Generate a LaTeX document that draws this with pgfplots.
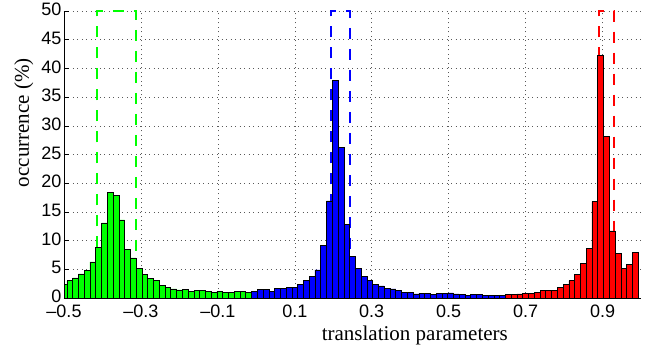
\documentclass[border=0pt]{standalone}
\usepackage{fontspec}
\setmainfont{Liberation Serif}
\setsansfont{Liberation Sans}
\usepackage{pgfplots}
\pgfplotsset{compat=1.18}
\definecolor{mgreen}{rgb}{0,1,0}
\definecolor{mblue}{rgb}{0,0,1}
\definecolor{mred}{rgb}{1,0,0}
\begin{document}
\begin{tikzpicture}
\useasboundingbox (-64bp,-49bp) rectangle (592bp,298bp);
\begin{axis}[
 width=577bp, height=287bp, scale only axis,
 xmin=-0.5, xmax=1.0, ymin=0, ymax=50,
 clip=false,
 axis x line=bottom, axis y line=left,
 axis line style={-, line width=0.8bp},
 xtick={-0.5,-0.3,-0.1,0.1,0.3,0.5,0.7,0.9},
 xticklabels={\textendash0.5,\textendash0.3,\textendash0.1,0.1,0.3,0.5,0.7,0.9},
 ytick={0,5,10,15,20,25,30,35,40,45,50},
 yticklabels={0,5,10,15,20,25,30,35,40,45,50},
 tick align=inside, major tick length=5bp,
 tick style={black, line width=0.6bp},
 grid=major,
 major grid style={black!65, line width=0.6bp, dash pattern=on 1bp off 3.5bp},
 tick label style={font=\fontsize{18bp}{20bp}\selectfont\sffamily},
 xticklabel style={yshift=-3.5bp},
 yticklabel style={xshift=1bp, yshift=1.5bp, inner ysep=0pt},
 label style={font=\fontsize{21bp}{24bp}\selectfont},
 xlabel={translation parameters}, ylabel={occurrence (\%)},
 xlabel style={at={(axis description cs:0.608,-0.1488)}, anchor=base, inner sep=0pt},
 ylabel style={at={(axis description cs:-0.053,0.611)}, anchor=south, inner sep=0pt},
 boxline/.style={line width=2bp, dash pattern=on 11bp off 10bp, dash phase=12.5bp},
]
% dashed boxes
\addplot[draw=mgreen, boxline] coordinates {(-0.4135,0) (-0.4135,50) (-0.313,50) (-0.313,0)};
\addplot[draw=mblue, boxline] coordinates {(0.1935,0) (0.1935,50) (0.2447,50) (0.2447,0)};
\addplot[draw=mred, boxline] coordinates {(0.890,0) (0.890,50) (0.931,50) (0.931,0)};
% green bars
\addplot[ybar, bar width=0.0075, bar shift=0pt, fill=mgreen, draw=black, line width=0.6bp] coordinates {(-0.49625,2.3)};
\addplot[ybar, bar width=0.015, bar shift=0pt, fill=mgreen, draw=black, line width=0.6bp] coordinates {
(-0.485,3.0)(-0.47,3.5)(-0.455,4.2)(-0.44,4.8)(-0.425,6.3)(-0.41,8.8)(-0.395,13.1)(-0.38,18.4)(-0.365,17.9)(-0.35,13.6)(-0.335,8.5)(-0.32,7.0)(-0.305,5.2)(-0.29,4.1)(-0.275,3.4)(-0.26,3.0)(-0.245,2.2)(-0.23,1.9)(-0.215,1.6)(-0.2,1.4)(-0.185,1.5)(-0.17,1.2)(-0.155,1.3)(-0.14,1.3)(-0.125,1.1)(-0.11,1.0)(-0.095,1.2)(-0.08,1.0)(-0.065,1.0)(-0.05,1.2)(-0.035,1.2)(-0.02,1.0)};
% blue bars
\addplot[ybar, bar width=0.015, bar shift=0pt, fill=mblue, draw=black, line width=0.6bp] coordinates {
(-0.005,1.2)(0.01,1.5)(0.025,1.5)(0.04,1.2)(0.055,1.7)(0.07,1.7)(0.085,1.8)(0.1,1.9)(0.115,2.3)(0.13,3.1)(0.145,3.7)(0.16,4.9)(0.175,9.1)(0.19,16.9)(0.205,37.9)(0.22,26.3)(0.235,12.8)(0.25,7.3)(0.265,5.1)(0.28,3.8)(0.295,3.0)(0.31,2.4)(0.325,2.1)(0.34,1.7)(0.355,1.6)(0.37,1.3)(0.385,1.0)(0.4,1.0)(0.415,0.7)(0.43,0.8)(0.445,0.8)(0.46,0.6)(0.475,0.8)(0.49,0.8)(0.505,0.9)(0.52,0.7)(0.535,0.6)(0.55,0.5)(0.565,0.6)(0.58,0.6)(0.595,0.4)(0.61,0.4)(0.625,0.4)(0.64,0.5)};
% red bars
\addplot[ybar, bar width=0.015, bar shift=0pt, fill=mred, draw=black, line width=0.6bp] coordinates {
(0.655,0.6)(0.67,0.6)(0.685,0.7)(0.7,0.8)(0.715,0.8)(0.73,1.0)(0.745,1.3)(0.76,1.3)(0.775,1.3)(0.79,1.8)(0.805,2.3)(0.82,3.0)(0.835,4.1)(0.85,6.0)(0.865,8.7)(0.88,16.8)(0.895,42.2)(0.91,28.2)(0.925,11.7)(0.94,7.8)(0.955,5.2)(0.97,5.8)(0.985,8.0)};
\end{axis}
\end{tikzpicture}
\end{document}
